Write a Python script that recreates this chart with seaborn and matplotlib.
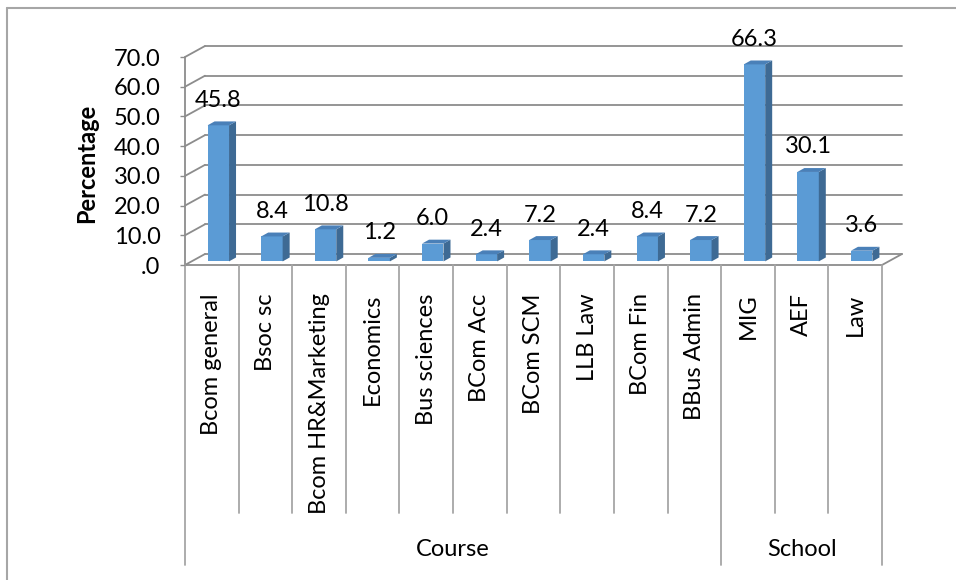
import matplotlib
matplotlib.use("Agg")
import matplotlib.pyplot as plt
import seaborn as sns
from matplotlib.patches import Polygon
from matplotlib.lines import Line2D
from matplotlib.transforms import ScaledTranslation, IdentityTransform

# ---- data -------------------------------------------------------------
categories = ["Bcom general", "Bsoc sc", "Bcom HR&Marketing", "Economics",
              "Bus sciences", "BCom Acc", "BCom SCM", "LLB Law", "BCom Fin",
              "BBus Admin", "MIG", "AEF", "Law"]
percentages = [45.8, 8.4, 10.8, 1.2, 6.0, 2.4, 7.2, 2.4, 8.4, 7.2, 66.3, 30.1, 3.6]
group_names = ["Course", "School"]
group_sizes = [10, 3]
y_ticks = [0, 10, 20, 30, 40, 50, 60, 70]
y_tick_labels = [".0", "10.0", "20.0", "30.0", "40.0", "50.0", "60.0", "70.0"]

# ---- style ------------------------------------------------------------
sns.set_theme(style="white")
plt.rcParams["font.family"] = ["Lato", "DejaVu Sans"]
FS = 17
GRID = "#8c8c8c"
FRONT = "#5b9bd5"
SIDE = "#3e6a94"
TOP = "#4a80b8"

W, H = 956, 580
fig = plt.figure(figsize=(W / 100, H / 100), dpi=100)
fig.patch.set_facecolor("white")

# front plane of the 3-D box (image pixels)
X0, X1 = 185, 882
Y0, YT = 265, 57
ax = fig.add_axes([X0 / W, 1 - Y0 / H, (X1 - X0) / W, (Y0 - YT) / H])

sns.barplot(x=categories, y=percentages, color=FRONT, saturation=1,
            width=0.4, linewidth=0, ax=ax)

n = len(categories)
ax.set_xlim(-0.5, n - 0.5)
ax.set_ylim(0, 70)
ax.patch.set_visible(False)
for s in ax.spines.values():
    s.set_visible(False)

# depth vectors in display pixels (y up)
DEPTH = (20.0, 11.0)      # whole box depth
BAR_OFF = (6.5, 3.6)      # front face of the bars inside the box
BAR_DEPTH = (7.0, 3.9)    # thickness of each bar


def disp(x, y):
    return ax.transData.transform((x, y))


def add_line(p, q, z=0.5, lw=1.3, color=GRID):
    ln = Line2D([p[0], q[0]], [p[1], q[1]], color=color, lw=lw,
                transform=IdentityTransform(), zorder=z)
    ax.add_line(ln)
    ln.set_clip_on(False)


# back wall gridlines and left wall diagonals
for v in y_ticks:
    a = disp(-0.5, v)
    b = disp(n - 0.5, v)
    add_line((a[0] + DEPTH[0], a[1] + DEPTH[1]), (b[0] + DEPTH[0], b[1] + DEPTH[1]))
    add_line(a, (a[0] + DEPTH[0], a[1] + DEPTH[1]))

# floor front edge, floor right edge, front vertical axis
f0 = disp(-0.5, 0)
f1 = disp(n - 0.5, 0)
add_line(f0, f1)
add_line(f1, (f1[0] + DEPTH[0], f1[1] + DEPTH[1]))
add_line(f0, disp(-0.5, 70))

# shift bar fronts into the box, add side and top faces
shift = ScaledTranslation(BAR_OFF[0] / 100, BAR_OFF[1] / 100, fig.dpi_scale_trans)
for p in ax.patches:
    x, w, h = p.get_x(), p.get_width(), p.get_height()
    p.set_transform(ax.transData + shift)
    p.set_zorder(1)
    bl = disp(x, 0) + BAR_OFF
    br = disp(x + w, 0) + BAR_OFF
    tr = disp(x + w, h) + BAR_OFF
    tl = disp(x, h) + BAR_OFF
    bd = BAR_DEPTH
    side = Polygon([br, br + bd, tr + bd, tr], closed=True, facecolor=SIDE,
                   edgecolor="none", transform=IdentityTransform(), zorder=1.2)
    top = Polygon([tl, tr, tr + bd, tl + bd], closed=True, facecolor=TOP,
                  edgecolor="none", transform=IdentityTransform(), zorder=1.3)
    ax.add_patch(side)
    ax.add_patch(top)
    side.set_clip_on(False)
    top.set_clip_on(False)
    ax.annotate(f"{h:.1f}", xy=(x + w / 2, h), xytext=(BAR_OFF[0], BAR_OFF[1] + 25),
                textcoords="offset pixels", ha="center", va="center",
                fontsize=FS, color="black", zorder=3, annotation_clip=False)

ax.set_xlim(-0.5, n - 0.5)
ax.set_ylim(0, 70)

# axes ticks and labels
ax.set_yticks(y_ticks, y_tick_labels)
ax.tick_params(axis="y", left=True, length=3.6, width=1, color=GRID,
               pad=14, labelsize=FS, labelcolor="black")
ax.set_xticks(range(n), categories, rotation=90)
ax.tick_params(axis="x", bottom=False, pad=14.4, labelsize=FS, labelcolor="black")
ax.set_xlabel("")
ax.set_ylabel("Percentage", fontsize=FS, fontweight="bold", color="black")
ax.yaxis.set_label_coords((98 - X0) / (X1 - X0), (Y0 - 163) / (Y0 - YT))

# category dividers and group labels below the axis
boundaries = [0]
for s in group_sizes:
    boundaries.append(boundaries[-1] + s)
for k in range(n + 1):
    xd = disp(k - 0.5, 0)[0]
    bottom = 565 if k in boundaries else 513
    add_line((xd, H - Y0), (xd, H - bottom), lw=1.3, color="#a6a6a6")
for name, start, size in zip(group_names, boundaries[:-1], group_sizes):
    xc = start - 0.5 + size / 2
    xd = disp(xc, 0)[0]
    ax.text(xd, H - 549, name, transform=IdentityTransform(), ha="center",
            va="center", fontsize=FS, color="black", clip_on=False)

# outer chart border
fig.add_artist(Line2D([7, 7], [0, H - 8], color="#a6a6a6", lw=1.5,
                      transform=IdentityTransform()))
fig.add_artist(Line2D([7, W], [H - 8, H - 8], color="#a6a6a6", lw=1.5,
                      transform=IdentityTransform()))

fig.savefig("out.png", dpi=100, facecolor="white")
